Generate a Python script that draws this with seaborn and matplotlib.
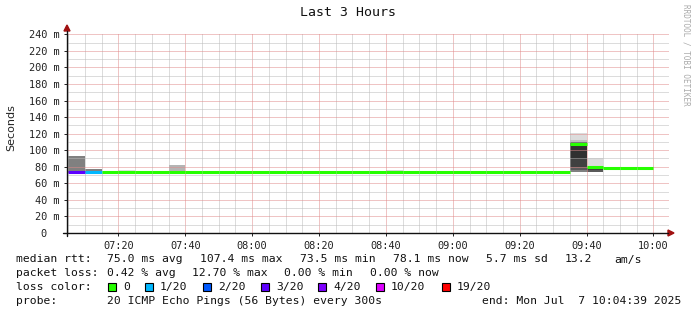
import matplotlib
matplotlib.use("Agg")
import matplotlib.pyplot as plt
from matplotlib.patches import Polygon, Rectangle
from matplotlib.lines import Line2D
import seaborn as sns

# ---------------- data ----------------
bin_times = ["07:05", "07:10", "07:15", "07:20", "07:25", "07:30", "07:35",
             "07:40", "07:45", "07:50", "07:55", "08:00", "08:05", "08:10",
             "08:15", "08:20", "08:25", "08:30", "08:35", "08:40", "08:45",
             "08:50", "08:55", "09:00", "09:05", "09:10", "09:15", "09:20",
             "09:25", "09:30", "09:35", "09:40", "09:45", "09:50", "09:55"]
median_ms = [73.2, 73.4, 73.8, 73.7, 73.6, 73.8, 73.9, 73.7, 73.6, 73.8,
             73.7, 73.6, 73.7, 73.8, 73.6, 73.7, 73.5, 73.6, 73.7, 73.8,
             73.6, 73.7, 73.6, 73.5, 73.7, 73.6, 73.8, 73.7, 73.6, 73.7,
             107.4, 79.8, 78.3, 78.2, 78.1]
loss_pct = [12.7, 2.0] + [0.0] * 33

# smoke layers: bin time, low, high (ms), gray level
smoke_time = ["07:05", "07:10", "07:20", "07:35", "08:40",
              "09:35", "09:35", "09:35", "09:35", "09:35", "09:35", "09:35",
              "09:40", "09:40", "09:40", "09:40"]
smoke_lo = [73.0, 73.0, 73.0, 73.0, 73.0,
            112.9, 110.0, 106.0, 88.8, 79.6, 76.0, 73.6,
            81.5, 78.5, 76.0, 73.6]
smoke_hi = [93.2, 77.5, 76.3, 82.7, 76.5,
            121.3, 112.9, 110.0, 106.0, 88.8, 79.6, 76.0,
            90.0, 81.5, 78.5, 76.0]
smoke_gray = [128, 128, 224, 180, 216,
              220, 190, 56, 48, 64, 90, 128,
              220, 200, 60, 90]

loss_levels = [0, 1, 2, 3, 4, 10, 19]
loss_labels = ["0", "1/20", "2/20", "3/20", "4/20", "10/20", "19/20"]
loss_colors = ["#26ff00", "#00b8ff", "#0059ff", "#5e00ff", "#7e00ff", "#dd00ff", "#ff0000"]

x_tick_labels = ["07:20", "07:40", "08:00", "08:20", "08:40", "09:00", "09:20", "09:40", "10:00"]
y_ticks = [0, 20, 40, 60, 80, 100, 120, 140, 160, 180, 200, 220, 240]

start_time, end_time = "07:04:39", "10:04:39"
step_min = 5

# ---------------- helpers ----------------
def to_min(s):
    parts = [int(p) for p in s.split(":")]
    m = parts[0] * 60 + parts[1]
    if len(parts) > 2:
        m += parts[2] / 60.0
    return m

def loss_color(pct):
    pings = pct / 100.0 * 20
    for lvl, c in zip(loss_levels, loss_colors):
        if pings <= lvl + 1e-9:
            return c
    return loss_colors[-1]

W, H = 697, 315
def fx(x):
    return x / W
def fy(y):
    return 1 - y / H

# ---------------- style ----------------
sns.set_theme(style="white")
plt.rcParams["font.family"] = ["DejaVu Sans Mono"]

fig = plt.figure(figsize=(W / 100, H / 100), dpi=100)
fig.patch.set_facecolor("white")
ax = fig.add_axes([fx(67), fy(233), (669 - 67) / W, (233 - 34.3) / H])
ax.set_facecolor("white")
ax.set_xlim(to_min(start_time), to_min(end_time))
ax.set_ylim(0, 240)

# smoke
for t, lo, hi, g in zip(smoke_time, smoke_lo, smoke_hi, smoke_gray):
    c = "#%02x%02x%02x" % (g, g, g)
    ax.bar(to_min(t), hi - lo, bottom=lo, width=step_min, align="edge",
           color=c, linewidth=0, zorder=1)

# median line coloured by loss
starts = [to_min(t) for t in bin_times]
ax.hlines(median_ms, starts, [s + step_min for s in starts],
          colors=[loss_color(p) for p in loss_pct], linewidth=2.2, zorder=3)

# grid
ax.set_xticks([to_min(t) for t in x_tick_labels])
ax.set_xticklabels(x_tick_labels, fontsize=7.4, color="#222222")
ax.set_xticks([to_min(t) for t in bin_times] + [to_min("10:00")], minor=True)
ax.set_yticks(y_ticks)
ax.set_yticklabels([("%d m" % v) if v else "0  " for v in y_ticks],
                   fontsize=7.4, color="#222222")
ax.set_yticks([v + 10 for v in y_ticks[:-1]], minor=True)
ax.grid(True, which="major", color="#e08a8a", linestyle=(0, (1, 1)), linewidth=0.72)
ax.grid(True, which="minor", color="#bbbbbb", linestyle=(0, (1, 1)), linewidth=0.72)
ax.set_axisbelow("line")
ax.tick_params(axis="both", which="major", length=2, width=0.7, color="#222222", pad=3.5,
               direction="out", bottom=True, left=True)
ax.tick_params(axis="both", which="minor", length=0)
for s in ax.spines.values():
    s.set_visible(False)

# axis lines with arrows
fig.add_artist(Line2D([fx(63), fx(668)], [fy(233), fy(233)], color="#111111", lw=1.0))
fig.add_artist(Line2D([fx(67), fx(67)], [fy(236), fy(31)], color="#111111", lw=1.0))
fig.add_artist(Polygon([(fx(668), fy(230)), (fx(674), fy(233)), (fx(668), fy(236))],
                       closed=True, color="#a01010"))
fig.add_artist(Polygon([(fx(64), fy(31)), (fx(67), fy(25)), (fx(70), fy(31))],
                       closed=True, color="#a01010"))

# title, labels, watermark
fig.text(fx(348), fy(13), "Last 3 Hours", ha="center", va="center", fontsize=9.5, color="#111111")
fig.text(fx(11), fy(128), "Seconds", ha="center", va="center", rotation=90,
         fontsize=8, family=["DejaVu Sans"], color="#222222")
fig.text(fx(686), fy(4), "RRDTOOL / TOBI OETIKER", ha="center", va="top", rotation=270,
         fontsize=5.5, color="#aaaaaa")

# legend text
fs = 8.2
tc = "#111111"
rows = [
    (259.5, [(16, "median rtt:"), (107, "75.0 ms avg"), (200, "107.4 ms max"),
             (300, "73.5 ms min"), (393, "78.1 ms now"), (486, "5.7 ms sd"),
             (565, "13.2"), (614, "am/s")]),
    (273.5, [(16, "packet loss:"), (107, "0.42 % avg"), (192, "12.70 % max"),
             (284, "0.00 % min"), (370, "0.00 % now")]),
    (287, [(16, "loss color:")]),
    (301.5, [(16, "probe:"), (107, "20 ICMP Echo Pings (56 Bytes) every 300s")]),
]
for y, items in rows:
    for x, s in items:
        fig.text(fx(x), fy(y), s, ha="left", va="center", fontsize=fs, color=tc)
fig.text(fx(681), fy(301.5), "end: Mon Jul  7 10:04:39 2025", ha="right", va="center",
         fontsize=fs, color=tc)

label_x = [123, 160, 218, 276, 333, 391, 457]
for lx, lab, col in zip(label_x, loss_labels, loss_colors):
    fig.add_artist(Rectangle((fx(lx - 15), fy(290.5)), 8 / W, 8 / H, facecolor=col,
                             edgecolor="black", linewidth=0.8))
    fig.text(fx(lx), fy(287), lab, ha="left", va="center", fontsize=fs, color=tc)

fig.savefig("out.png", dpi=100, facecolor="white")
